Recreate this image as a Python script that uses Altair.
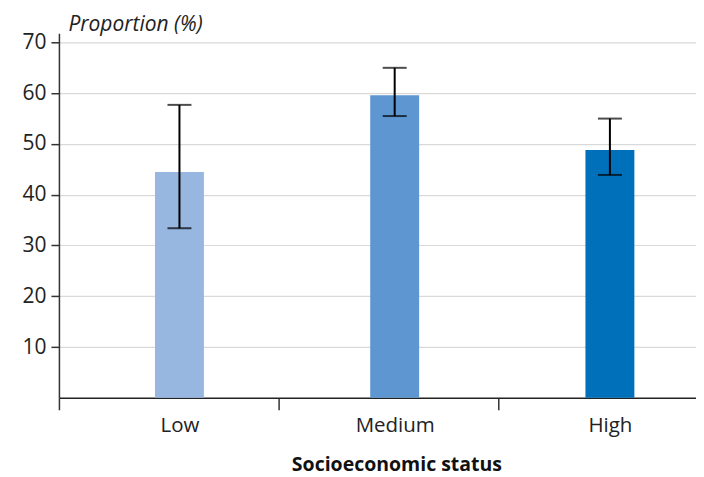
import altair as alt
import pandas as pd

categories = ["Low", "Medium", "High"]
proportion = [44.5, 59.6, 48.8]
ci_low = [33.4, 55.5, 43.9]
ci_high = [57.7, 65.0, 55.0]
bar_colors = ["#97b6e0", "#5e96d1", "#0070bb"]
y_ticks = [10, 20, 30, 40, 50, 60, 70]

df = pd.DataFrame({
    "idx": list(range(1, len(categories) + 1)),
    "cat": categories,
    "val": proportion,
    "lo": ci_low,
    "hi": ci_high,
})

FONT = "Open Sans"
boundaries = [0.44, 1.46, 2.48]
label_arr = "[" + ",".join("'" + c + "'" for c in categories) + "]"

x_axis = alt.Axis(
    title="Socioeconomic status",
    values=sorted(boundaries + list(df["idx"])),
    labelExpr=f"datum.value % 1 == 0 ? {label_arr}[datum.value - 1] : ''",
    labelOverlap=False,
    labelFont=FONT, labelFontSize=20.5, labelColor="#222", labelPadding=6,
    tickOpacity={"condition": {"test": "datum.value % 1 == 0", "value": 0}, "value": 1},
    tickSize=12, tickColor="#333", tickWidth=1.5,
    domainColor="#222", domainWidth=1.5,
    grid=False,
    titleFont=FONT, titleFontSize=19.5, titleFontWeight="bold", titleColor="#111",
    titleX=338, titleY=73, titleBaseline="alphabetic", titleAlign="center",
)
x_scale = alt.Scale(domain=[0.44, 3.40], nice=False, zero=False, padding=0)

y_axis = alt.Axis(
    title="Proportion (%)",
    values=y_ticks,
    grid=True, gridColor="#d9d9d9", gridWidth=1.2,
    tickSize=8, tickColor="#333", tickWidth=1.5,
    domainColor="#333", domainWidth=1.5,
    labelFont=FONT, labelFontSize=21, labelColor="#222", labelPadding=5,
    titleFont=FONT, titleFontSize=21, titleFontStyle="italic", titleFontWeight="normal",
    titleColor="#222", titleAngle=0, titleAlign="left", titleBaseline="alphabetic",
    titleX=9, titleY=-3,
)
y_scale = alt.Scale(domain=[0, 71.8], nice=False, padding=0)

xe = alt.X("idx:Q", scale=x_scale, axis=x_axis)

bars = alt.Chart(df).mark_bar(size=49).encode(
    x=xe,
    y=alt.Y("val:Q", scale=y_scale, axis=y_axis),
    color=alt.Color("cat:N", scale=alt.Scale(domain=categories, range=bar_colors), legend=None),
)
rules = alt.Chart(df).mark_rule(color="black", strokeWidth=2).encode(
    x=xe,
    y=alt.Y("lo:Q", scale=y_scale, axis=y_axis),
    y2="hi:Q",
)
cap_hi = alt.Chart(df).mark_tick(orient="horizontal", size=24, thickness=2, color="black").encode(
    x=xe, y=alt.Y("hi:Q", scale=y_scale, axis=y_axis),
)
cap_lo = alt.Chart(df).mark_tick(orient="horizontal", size=24, thickness=2, color="black").encode(
    x=xe, y=alt.Y("lo:Q", scale=y_scale, axis=y_axis),
)

chart = alt.layer(bars, rules, cap_hi, cap_lo).properties(
    width=638, height=365,
    padding={"left": 13, "top": 5, "right": 0, "bottom": 4},
).configure_view(stroke=None)

chart.save("out.html", embed_options={"renderer": "svg", "actions": False})
